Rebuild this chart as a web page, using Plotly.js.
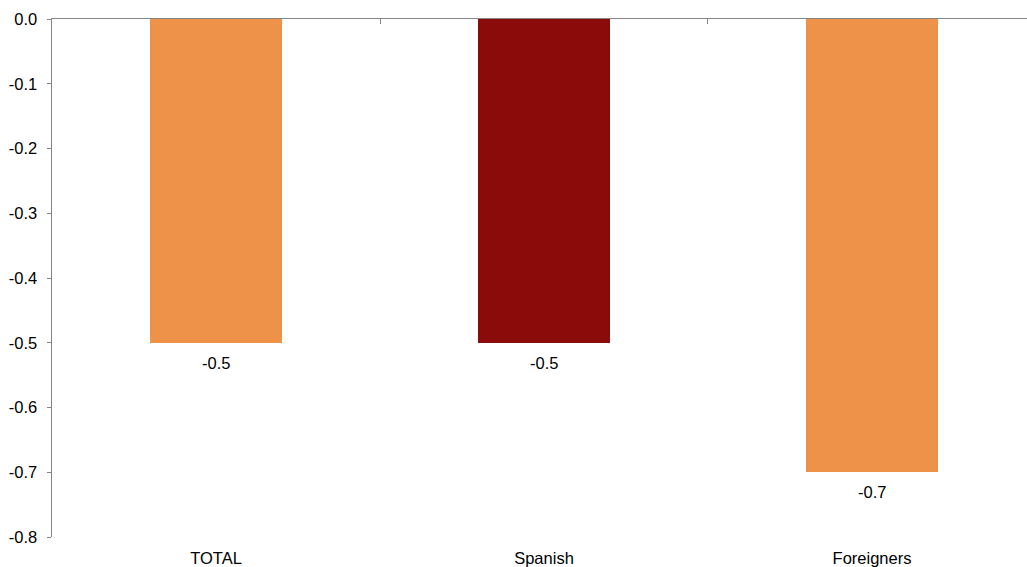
<!DOCTYPE html>
<html>
<head>
<meta charset="utf-8">
<script src="https://cdn.plot.ly/plotly-3.0.1.min.js"></script>
<style>html,body{margin:0;padding:0;background:#fff;}#chart{width:1027px;height:567px;}</style>
</head>
<body>
<div id="chart"></div>
<script>
const categories = ["TOTAL", "Spanish", "Foreigners"];
const values = [-0.5, -0.5, -0.7];
const barColors = ["#ED9248", "#8B0A0A", "#ED9248"];
const yTickVals = [0, -0.1, -0.2, -0.3, -0.4, -0.5, -0.6, -0.7, -0.8];
const yTickText = ["0.0", "-0.1", "-0.2", "-0.3", "-0.4", "-0.5", "-0.6", "-0.7", "-0.8"];

const font = {family: "Liberation Sans, Arial, sans-serif", size: 16.5, color: "#000"};
const xIdx = categories.map((c, i) => i);

const trace = {
  type: "bar",
  x: xIdx,
  y: values,
  marker: {color: barColors, line: {width: 0}},
  width: 0.405,
  hoverinfo: "none"
};
const topTrace = {type: "scatter", x: [0], y: [0], xaxis: "x2", mode: "none", showlegend: false, hoverinfo: "none"};

const xr = [-0.5, 2.4726];
const annotations = values.map((v, i) => ({
  x: i, y: v, xref: "x", yref: "y",
  text: v.toFixed(1), showarrow: false,
  yanchor: "middle", yshift: -20, font: font
}));

const layout = {
  width: 1027, height: 567,
  margin: {l: 52, r: 0, t: 19, b: 30, pad: 0},
  paper_bgcolor: "#fff", plot_bgcolor: "#fff",
  showlegend: false,
  font: font,
  bargap: 0,
  xaxis: {
    range: xr, tickmode: "array", tickvals: xIdx, ticktext: categories,
    showline: false, showgrid: false, zeroline: false,
    ticks: "outside", ticklen: 6, tickcolor: "rgba(0,0,0,0)",
    tickfont: font, fixedrange: true
  },
  xaxis2: {
    overlaying: "x", side: "top", range: xr,
    tickmode: "array", tickvals: [0.5, 1.5], showticklabels: false,
    ticks: "inside", ticklen: 5, tickwidth: 1, tickcolor: "#868686",
    showline: true, linecolor: "#868686", linewidth: 1,
    showgrid: false, zeroline: false
  },
  yaxis: {
    range: [-0.8, 0], tickmode: "array", tickvals: yTickVals, ticktext: yTickText,
    showline: true, linecolor: "#868686", linewidth: 1.5,
    ticks: "outside", ticklen: 4, tickcolor: "#868686", tickwidth: 1,
    ticklabelstandoff: 6,
    showgrid: false, zeroline: false, tickfont: font, fixedrange: true
  },
  annotations: annotations
};

Plotly.newPlot("chart", [trace, topTrace], layout, {displayModeBar: false, staticPlot: true});
</script>
</body>
</html>
